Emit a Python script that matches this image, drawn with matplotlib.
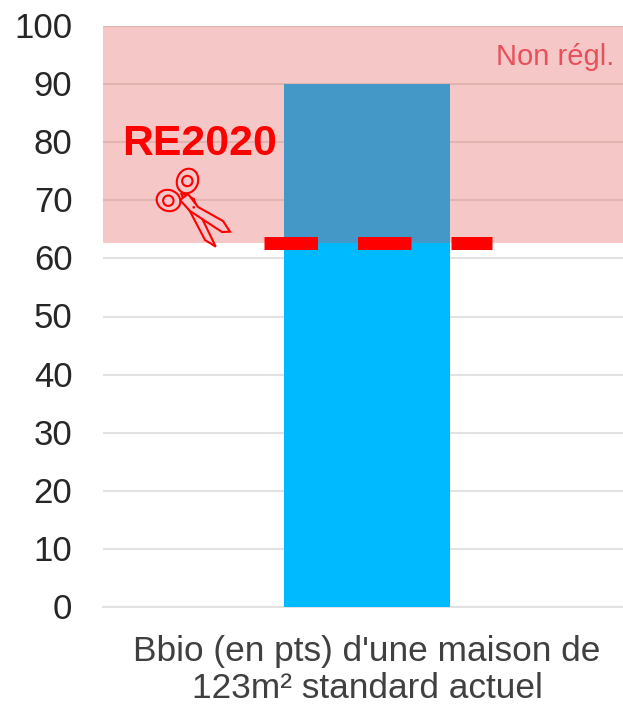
import matplotlib
matplotlib.use("Agg")
import matplotlib.pyplot as plt
from matplotlib.patches import Ellipse, Polygon, Circle
from matplotlib.transforms import ScaledTranslation

plt.rcParams['font.family'] = ['Liberation Sans', 'DejaVu Sans']

categories = ["Bbio (en pts) d'une maison de\n123m² standard actuel"]
bbio_values = [90]
re2020_limit = 62.7
y_ticks = [0, 10, 20, 30, 40, 50, 60, 70, 80, 90, 100]

W, H = 623, 704
fig = plt.figure(figsize=(W / 100, H / 100), dpi=100)
# the axes run a bit past the right edge, the original is cropped
ax = fig.add_axes([103 / W, 1 - 607 / H, 528 / W, 581 / H])

ax.bar(categories, bbio_values, width=0.314, color='#00BAFF', zorder=2)
ax.set_xlim(-0.5, 0.5)
ax.set_ylim(0, 100)
ax.set_yticks(y_ticks)
ax.grid(axis='y', color='#E2E2E2', lw=1.5, zorder=1)
ax.set_axisbelow(True)
for s in ax.spines.values():
    s.set_visible(False)
ax.axhline(0, color='#E2E2E2', lw=1.5, zorder=1, clip_on=False)
ax.tick_params(axis='y', length=0, labelsize=25, labelcolor='#262626', pad=22)
ax.tick_params(axis='x', length=0, labelsize=25.4, labelcolor='#404040', pad=20)
up = ScaledTranslation(0, 1 / 100, fig.dpi_scale_trans)
for lab in ax.get_yticklabels():
    lab.set_transform(lab.get_transform() + up)
for lab in ax.get_xticklabels():
    lab.set_linespacing(1.16)

# non regulated zone
ax.axhspan(re2020_limit, 100, color='#E14B46', alpha=0.3, lw=0, zorder=3)
ax.plot([-0.195, 0.237], [re2020_limit, re2020_limit], color='#FF0000', lw=9.36,
        linestyle=(0, (53.5 / 13, 40 / 13)), dash_capstyle='butt', zorder=4)

ax.text(614 / W, 1 - 57 / H, 'Non régl.', color='#E8505B', fontsize=21, ha='right', va='center',
        transform=fig.transFigure, zorder=5)
ax.text(199.5 / W, 1 - 144 / H, 'RE2020', color='#FF0000', fontsize=30.8, fontweight='bold',
        ha='center', va='center', transform=fig.transFigure, zorder=5)

# scissors icon, in pixels
icon = fig.add_axes([0, 0, 1, 1], facecolor='none')
icon.set_xlim(0, W)
icon.set_ylim(H, 0)
icon.axis('off')
pink = '#F6C7CA'
icon.add_patch(Polygon([(181, 193), (194, 199), (197, 208), (215.7, 246.7), (205, 240), (183, 198)],
                       fc=pink, ec='#FF0000', lw=1.5, zorder=2))
icon.add_patch(Polygon([(180, 200), (190, 211), (222, 232), (230, 231.7), (223, 221), (198, 207), (188, 194)],
                       fc=pink, ec='#FF0000', lw=1.5, zorder=2))
icon.add_patch(Ellipse((187.5, 181), 21, 25, angle=20, fc=pink, ec='#FF0000', lw=1.5, zorder=3))
icon.add_patch(Ellipse((168.5, 200.5), 24, 21, angle=20, fc=pink, ec='#FF0000', lw=1.5, zorder=3))
icon.add_patch(Circle((187.3, 181), 5.2, fc='none', ec='#FF0000', lw=1.5, zorder=4))
icon.add_patch(Circle((168.3, 200.7), 5.2, fc='none', ec='#FF0000', lw=1.5, zorder=4))
icon.add_patch(Circle((193.7, 207.3), 1.3, fc='#FF0000', ec='none', zorder=4))

fig.savefig('out.png', dpi=100, facecolor='white')
